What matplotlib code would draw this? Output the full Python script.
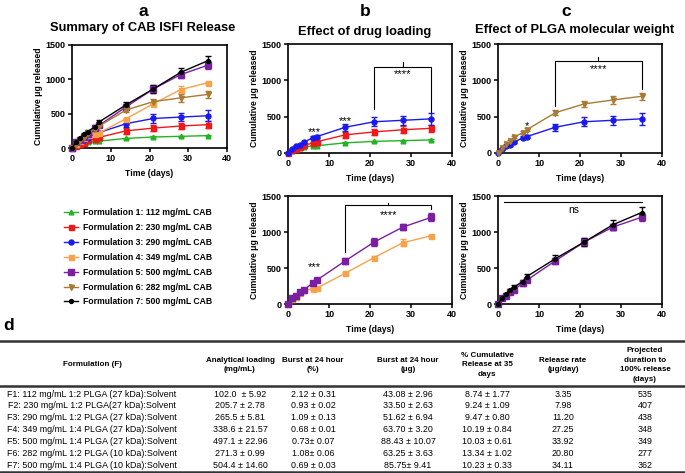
import matplotlib
matplotlib.use("Agg")
import matplotlib.pyplot as plt
from matplotlib.lines import Line2D

plt.rcParams['font.family'] = ['Liberation Sans', 'DejaVu Sans']

# ---------------- data ----------------
days = [0, 1, 2, 3, 4, 6, 7, 14, 21, 28, 35]

f1 = [0, 30, 55, 70, 85, 95, 100, 140, 160, 170, 180]
f1_err = [0, 3, 3, 4, 5, 5, 5, 8, 8, 8, 8]
f2 = [0, 35, 60, 80, 110, 135, 155, 250, 290, 320, 340]
f2_err = [0, 5, 8, 10, 15, 20, 20, 40, 45, 50, 50]
f3 = [0, 50, 90, 110, 150, 210, 225, 355, 430, 450, 470]
f3_err = [0, 8, 10, 12, 15, 20, 25, 50, 65, 60, 80]
f4 = [0, 64, 100, 150, 190, 210, 220, 428, 645, 850, 950]
f4_err = [0, 5, 8, 10, 10, 10, 10, 15, 15, 50, 15]
f5 = [0, 88, 110, 160, 200, 290, 330, 600, 860, 1068, 1205]
f5_err = [0, 8, 10, 15, 15, 35, 30, 45, 55, 45, 55]
f6 = [0, 63, 120, 160, 220, 280, 320, 555, 675, 730, 780]
f6_err = [0, 8, 10, 15, 20, 20, 20, 35, 40, 60, 50]
f7 = [0, 86, 140, 200, 240, 310, 380, 630, 860, 1100, 1270]
f7_err = [0, 8, 10, 15, 20, 20, 30, 45, 55, 70, 75]

labels = ["Formulation 1: 112 mg/mL CAB", "Formulation 2: 230 mg/mL CAB",
          "Formulation 3: 290 mg/mL CAB", "Formulation 4: 349 mg/mL CAB",
          "Formulation 5: 500 mg/mL CAB", "Formulation 6: 282 mg/mL CAB",
          "Formulation 7: 500 mg/mL CAB"]
colors = ["#22B422", "#F01818", "#1A1AF0", "#F9A24A", "#7B1FA2", "#A87A36", "#000000"]
markers = ["^", "s", "o", "s", "s", "v", "o"]
msizes = [3.4, 3.6, 3.6, 3.6, 3.8, 3.6, 2.8]
series = [f1, f2, f3, f4, f5, f6, f7]
errors = [f1_err, f2_err, f3_err, f4_err, f5_err, f6_err, f7_err]

table_header = ["Formulation (F)", "Analytical loading\n(mg/mL)", "Burst at 24 hour\n(%)",
                "Burst at 24 hour\n(\u03bcg)", "% Cumulative\nRelease at 35\ndays",
                "Release rate\n(\u03bcg/day)", "Projected\nduration to\n100% release\n(days)"]
col_formulation = ["F1: 112 mg/mL 1:2 PLGA (27 kDa):Solvent",
                   "F2: 230 mg/mL 1:2 PLGA(27 kDa):Solvent",
                   "F3: 290 mg/mL 1:2 PLGA (27 kDa):Solvent",
                   "F4: 349 mg/mL 1:4 PLGA (27 kDa):Solvent",
                   "F5: 500 mg/mL 1:4 PLGA (27 kDa):Solvent",
                   "F6: 282 mg/mL 1:2 PLGA (10 kDa):Solvent",
                   "F7: 500 mg/mL 1:4 PLGA (10 kDa):Solvent"]
col_loading = ["102.0  \u00b1 5.92", "205.7 \u00b1 2.78", "265.5 \u00b1 5.81", "338.6 \u00b1 21.57",
               "497.1 \u00b1 22.96", "271.3 \u00b1 0.99", "504.4 \u00b1 14.60"]
col_burst_pct = ["2.12 \u00b1 0.31", "0.93 \u00b1 0.02", "1.09 \u00b1 0.13", "0.68 \u00b1 0.01",
                 "0.73\u00b1 0.07", "1.08\u00b1 0.06", "0.69 \u00b1 0.03"]
col_burst_ug = ["43.08 \u00b1 2.96", "33.50 \u00b1 2.63", "51.62 \u00b1 6.94", "63.70 \u00b1 3.20",
                "88.43 \u00b1 10.07", "63.25 \u00b1 3.63", "85.75\u00b1 9.41"]
col_cum = ["8.74 \u00b1 1.77", "9.24 \u00b1 1.09", "9.47 \u00b1 0.80", "10.19 \u00b1 0.84",
           "10.03 \u00b1 0.61", "13.34 \u00b1 1.02", "10.23 \u00b1 0.33"]
col_rate = ["3.35", "7.98", "11.20", "27.25", "33.92", "20.80", "34.11"]
col_duration = ["535", "407", "438", "348", "349", "277", "362"]

# ---------------- figure ----------------
W, H = 685, 473
fig = plt.figure(figsize=(W / 100, H / 100), dpi=100)


def fx(px):
    return px / W


def fy(py):
    return 1 - py / H


def make_ax(l, t, r, b):
    ax = fig.add_axes([fx(l), fy(b), fx(r - l), (b - t) / H])
    ax.set_xlim(0, 40)
    ax.set_ylim(0, 1500)
    ax.set_xticks([0, 10, 20, 30, 40])
    ax.set_yticks([0, 500, 1000, 1500])
    for s in ax.spines.values():
        s.set_linewidth(1.2)
    ax.tick_params(direction='out', length=3, width=1.1, labelsize=6.5, pad=1.5)
    for lab in ax.get_xticklabels() + ax.get_yticklabels():
        lab.set_fontweight('bold')
    ax.set_xlabel("Time (days)", fontsize=6.2, fontweight='bold', labelpad=4)
    ax.set_ylabel("Cumulative \u03bcg released", fontsize=6.2, fontweight='bold', labelpad=2)
    return ax


def plot_series(ax, idxs):
    for i in idxs:
        ax.errorbar(days, series[i], yerr=errors[i], color=colors[i], marker=markers[i],
                    ms=msizes[i], lw=1.0, elinewidth=1.0, capsize=2, capthick=1.0,
                    label=labels[i], clip_on=False, zorder=3)


def bracket(ax, x0, x1, ytop, yl, yr, ytick, text, ytext):
    ax.plot([x0, x0, x1, x1], [yl, ytop, ytop, yr], color='black', lw=0.8)
    ax.plot([(x0 + x1) / 2] * 2, [ytop, ytick], color='black', lw=0.8)
    ax.text((x0 + x1) / 2, ytext, text, ha='center', va='center', fontsize=8)


TITLE_FS = 9.3

# panel a
ax_a = make_ax(72, 45, 227, 148)
plot_series(ax_a, [0, 1, 2, 3, 4, 5, 6])
fig.text(fx(143), fy(12), "a", ha='center', va='center', fontsize=12.5, fontweight='bold')
fig.text(fx(143), fy(28), "Summary of CAB ISFI Release", ha='center', va='center',
         fontsize=TITLE_FS, fontweight='bold')

# panel b top
ax_b1 = make_ax(288, 44, 452, 153)
plot_series(ax_b1, [0, 1, 2])
fig.text(fx(365), fy(12), "b", ha='center', va='center', fontsize=12.5, fontweight='bold')
fig.text(fx(365), fy(32), "Effect of drug loading", ha='center', va='center',
         fontsize=TITLE_FS, fontweight='bold')
ax_b1.text(6.5, 290, "***", ha='center', va='center', fontsize=8)
ax_b1.text(14, 440, "***", ha='center', va='center', fontsize=8)
bracket(ax_b1, 21, 35, 1185, 600, 570, 1250, "****", 1090)

# panel c top
ax_c1 = make_ax(498, 44, 662, 153)
plot_series(ax_c1, [2, 5])
fig.text(fx(566), fy(11), "c", ha='center', va='center', fontsize=12.5, fontweight='bold')
fig.text(fx(575), fy(30), "Effect of PLGA molecular weight", ha='center', va='center',
         fontsize=TITLE_FS, fontweight='bold')
ax_c1.text(7, 370, "*", ha='center', va='center', fontsize=8)
bracket(ax_c1, 14, 35, 1271, 651, 881, 1321, "****", 1160)

# panel b bottom
ax_b2 = make_ax(288, 196, 452, 304)
plot_series(ax_b2, [3, 4])
ax_b2.text(6.5, 510, "***", ha='center', va='center', fontsize=8)
bracket(ax_b2, 14, 35, 1371, 729, 1315, 1408, "****", 1240)

# panel c bottom
ax_c2 = make_ax(498, 196, 662, 304)
plot_series(ax_c2, [4, 6])
ax_c2.plot([1.5, 35], [1421, 1421], color='black', lw=0.8)
ax_c2.text(18.5, 1310, "ns", ha='center', va='center', fontsize=7.5)

# legend
leg_handles = [Line2D([], [], color=colors[i], marker=markers[i], ms=msizes[i], lw=1.0)
               for i in range(len(labels))]
fig.legend(handles=leg_handles, labels=labels, loc='upper left',
           bbox_to_anchor=(fx(60), fy(204)), frameon=False,
           prop={'size': 6.2, 'weight': 'bold'}, handlelength=1.6, handletextpad=0.6,
           labelspacing=0.68, borderpad=0)

# ---------------- table d ----------------
fig.text(fx(3), fy(325), "d", ha='left', va='center', fontsize=12.5, fontweight='bold')
for yy, lw in [(341, 1.8), (386, 1.8), (471.5, 1.8)]:
    fig.add_artist(Line2D([0, 1], [fy(yy), fy(yy)], color='#333333', lw=lw,
                          transform=fig.transFigure))

col_x = [92, 240, 313, 408, 487, 563, 645]
header_y = 365
for x, t in zip(col_x, table_header):
    fig.text(fx(x), fy(header_y), t, ha='center', va='center', fontsize=5.8,
             fontweight='bold', multialignment='center', linespacing=1.5)

columns = [col_formulation, col_loading, col_burst_pct, col_burst_ug, col_cum, col_rate, col_duration]
row_y0, row_dy = 394, 11.9
for x, col in zip(col_x, columns):
    for r, t in enumerate(col):
        fig.text(fx(x), fy(row_y0 + r * row_dy), t, ha='center', va='center', fontsize=6.4)

fig.savefig("out.png", dpi=100)
